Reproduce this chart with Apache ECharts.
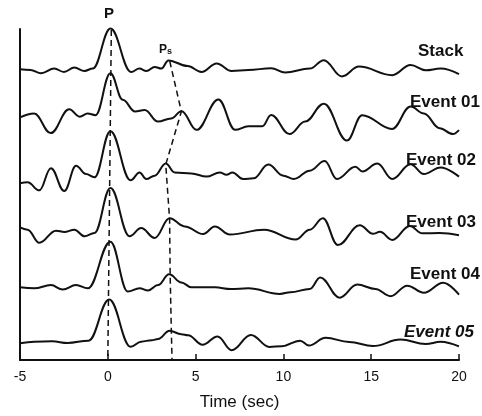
<!DOCTYPE html>
<html>
<head>
<meta charset="utf-8">
<title>Receiver function traces</title>
<script src="https://cdn.jsdelivr.net/npm/echarts@6/dist/echarts.min.js"></script>
<style>
  html, body { margin: 0; padding: 0; background: #fff; }
  #main { width: 482px; height: 416px; }
</style>
</head>
<body>
<div id="main"></div>
<script>
// trace names, top to bottom
const traceNames = ['Stack', 'Event 01', 'Event 02', 'Event 03', 'Event 04', 'Event 05'];
// baseline of each trace (y units, 0 = time axis)
const offsets = [296, 247, 182, 135, 74, 18];

// [time (s), amplitude] at the peaks and troughs
const stack = [[-5,0],[-4.4,-0.7],[-3.8,-4],[-3.05,0.7],[-2.5,-2.7],[-1.9,1.7],[-1.33,-1.7],[-0.86,0.7],
  [0.15,41.5],[1.33,-2.7],[1.8,0.7],[2.2,-1.7],
  [2.67,2.3],[3.05,0.7],[3.45,9],[4.55,3.3],[5.33,-2.7],[6.2,6],[7.05,-1.7],[8.0,-0.7],[9.3,1],[10.1,-3.3],
  [11.5,0.7],[12.3,9.3],[13.33,-7.3],[14.3,2.7],[16.2,-6],[17.24,4.3],[18.1,-1],[18.95,0.7],[20,-5]];
const event01 = [[-5,0],[-4.2,4],[-3.25,-16],[-2.2,8.3],[-1.6,0.7],[-1.15,4],[-0.7,2.3],
  [0.15,45],[0.85,18],[1.55,6],[2.1,7.5],[2.86,-4.3],[3.6,-1],[4.2,6.3],[5.05,-12.7],[6.3,18.3],
  [7.25,-12.7],[8.0,-9],[8.8,-9],[9.3,2.5],[10.35,-17],[11.24,-4.3],[12.3,14],[13.62,-23.5],[14.48,2.3],
  [16.19,-11.7],[17.24,11],[18.0,4],[18.9,-11],[19.65,-17],[20,-13]];
const event02 = [[-5,-2],[-4.57,-1],[-3.9,-9.3],[-3.24,13.3],[-2.48,-10],[-1.81,15.7],[-1.24,7.3],
  [-0.76,4],[0.15,51],[1.3,1],[1.81,9],[2.19,2.3],[2.67,5.7],[3.3,18],
  [3.81,9],[4.76,8],[5.62,4.7],[6.38,9],[6.76,6.7],[7.1,9],[7.7,2.3],[8.3,3],[9.14,17],[10.0,5.7],
  [10.6,2.3],[11.5,10.7],[12.35,20.5],[13.05,2.3],[14.1,14.7],[14.5,10],[15.35,18],[16.2,2.3],
  [17.24,17.3],[18.0,7.3],[18.95,14],[20,4.7]];
const event03 = [[-5,0],[-4.57,-2.3],[-3.9,-15.7],[-2.95,-3.3],[-2.48,-4.7],[-1.9,-2.3],[-1.33,-9],
  [-0.76,-5.7],[0.15,40],[1.24,-9],[1.9,-0.7],[2.67,-10.7],
  [3.52,9.3],[4.38,1],[5.43,-6.7],[6.1,1],[6.95,-7.3],[8.9,-2.3],[10.7,-12.3],[11.5,-2.3],[12.25,9.3],
  [13.1,-18],[14.35,2.2],[15.1,-6.5],[15.5,-4.5],[16.2,-12.7],[17.2,1.5],[17.9,-6],[18.9,-5.7],[20,-8]];
const event04 = [[-5,0],[-4.19,-1],[-3.24,2.3],[-2.57,-2.3],[-1.81,2.3],[-1.14,-1],
  [0.15,46.5],[1.14,-4.3],[1.81,-1],[2.29,-3.3],[2.86,2.3],
  [3.49,13.3],[4.19,5],[4.76,0],[6.1,0],[7.0,-1.7],[8,-1],[9.8,-6.7],[10.4,-5],[11.5,-1.7],[12.1,10],
  [13.2,-10.5],[14.2,2.8],[15.24,-1.7],[16.1,-9],[17.05,1.7],[18.0,-5.5],[19.1,4.6],[20,-7.5]];
const event05 = [[-5,-1],[-4.19,0.7],[-3.16,1],[-2.29,-0.7],[-1.1,1.7],
  [0.08,43.5],[1.3,-4.5],[1.9,0.7],[2.5,2.2],[2.86,3.3],[3.52,11.7],[4.19,8.3],
  [4.57,7.3],[5.4,-2.5],[6.25,6],[7.05,-8],[8.15,7.5],[9.2,-4.7],[9.9,-4],[10.95,1.7],[11.45,-3.3],
  [12.4,4.6],[13.75,0.3],[15.1,-3.8],[16.67,2.8],[18.1,-1.7],[18.95,0.5],[20,-4.2]];
const traces = [stack, event01, event02, event03, event04, event05];

// picked arrivals (dashed), [time, y units]
const pLine = [[0.2, 336], [0.0, 0]];
const psLine = [[3.53, 304], [4.19, 253], [3.3, 199], [3.52, 143], [3.55, 88], [3.62, 28], [3.66, 0]];

// x axis ticks
const xTicks = [-5, 0, 5, 10, 15, 20];

const font = "'Liberation Sans', Arial, sans-serif";
const ink = '#111';

let myChart = echarts.init(document.getElementById('main'));

// traces: one line each, shifted to its baseline
let series = traces.map(function (tr, i) {
  return {
    name: traceNames[i],
    type: 'line',
    smooth: 0.4,
    smoothMonotone: 'x',
    symbol: 'none',
    clip: false,
    lineStyle: { color: ink, width: 2 },
    data: tr.map(function (p) { return [p[0], offsets[i] + p[1]]; })
  };
});
series.push({
  type: 'line', symbol: 'none', clip: false,
  lineStyle: { color: ink, width: 1.5, type: [6, 4] },
  data: pLine
});
series.push({
  type: 'line', symbol: 'none', clip: false,
  lineStyle: { color: ink, width: 1.5, type: [6, 4] },
  data: psLine
});

// label positions (pixels)
const labelLeft = [418, 410, 406, 406, 410, 404];
const labelMid = [51.5, 103, 160.5, 222.5, 275, 332.5];

let graphics = traceNames.map(function (n, i) {
  return {
    type: 'text',
    left: labelLeft[i],
    top: labelMid[i] - 9,
    style: {
      text: n,
      fill: ink,
      font: (i === 5 ? 'italic ' : '') + 'bold 17px ' + font
    }
  };
});
graphics.push({
  type: 'text', left: 104, top: 6,
  style: { text: 'P', fill: ink, font: 'bold 15px ' + font }
});
graphics.push({
  type: 'text', left: 159, top: 44,
  style: {
    text: '{p|P}{s|s}',
    rich: {
      p: { font: 'bold 12px ' + font, fill: ink },
      s: { font: 'bold 9px ' + font, fill: ink, padding: [4, 0, 0, 0] }
    }
  }
});

myChart.setOption({
  animation: false,
  backgroundColor: '#fff',
  grid: { left: 20, right: 23, top: 29, bottom: 50 },
  xAxis: {
    type: 'value',
    min: -5,
    max: 20,
    interval: 5,
    name: 'Time (sec)',
    nameLocation: 'middle',
    nameGap: 34,
    nameTextStyle: { color: ink, fontSize: 17, fontFamily: font },
    axisLine: { onZero: false, lineStyle: { color: ink, width: 2 } },
    axisTick: { inside: true, length: 6, lineStyle: { color: ink, width: 1.5 } },
    axisLabel: {
      color: ink, fontSize: 14, fontFamily: font, margin: 10,
      formatter: function (v) { return xTicks.indexOf(v) >= 0 ? String(v) : ''; }
    },
    splitLine: { show: false }
  },
  yAxis: {
    type: 'value',
    min: 0,
    max: 337,
    axisLine: { show: true, onZero: false, lineStyle: { color: ink, width: 2 } },
    axisTick: { show: false },
    axisLabel: { show: false },
    splitLine: { show: false }
  },
  graphic: graphics,
  series: series
});
</script>
</body>
</html>
